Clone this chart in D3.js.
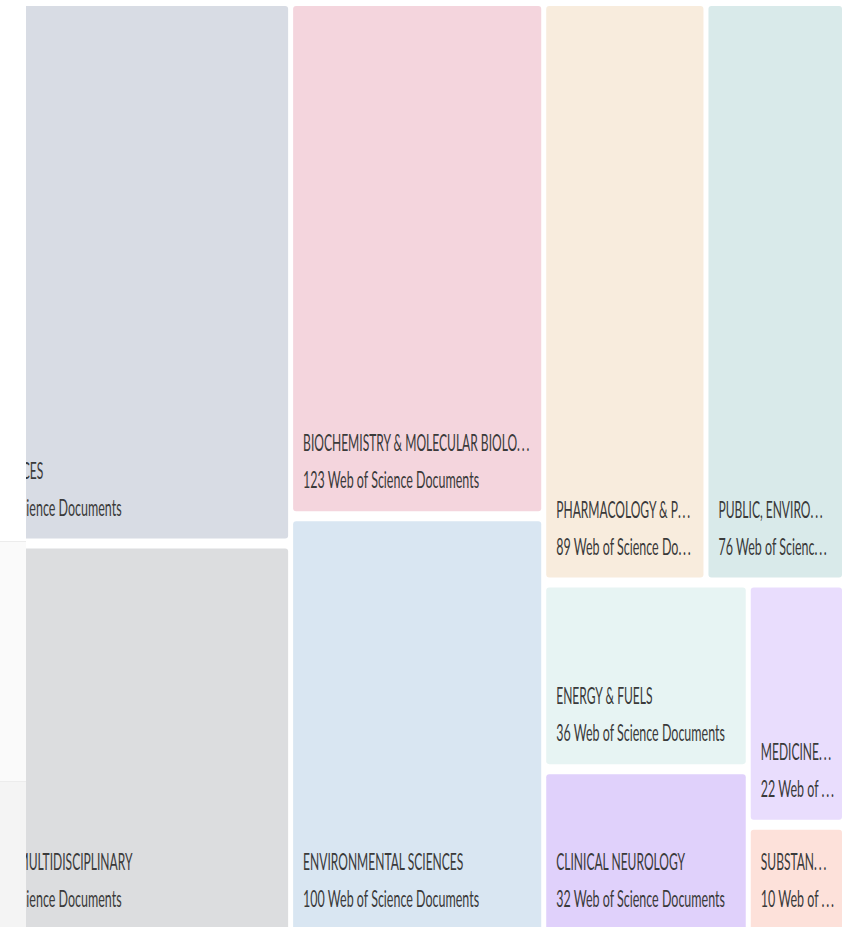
<!DOCTYPE html>
<html>
<head>
<meta charset="utf-8">
<script src="https://cdn.jsdelivr.net/npm/d3@7"></script>
<style>
  html, body { margin: 0; padding: 0; background: #ffffff; }
  svg { display: block; }
</style>
</head>
<body>
<svg id="chart" width="844" height="927"></svg>
<script>
// ---- data ----
const categories = [
  "NEUROSCIENCES",
  "CHEMISTRY, MULTIDISCIPLINARY",
  "BIOCHEMISTRY & MOLECULAR BIOLOGY",
  "ENVIRONMENTAL SCIENCES",
  "PHARMACOLOGY & PHARMACY",
  "PUBLIC, ENVIRONMENTAL & OCCUPATIONAL HEALTH",
  "ENERGY & FUELS",
  "CLINICAL NEUROLOGY",
  "MEDICINE, GENERAL & INTERNAL",
  "SUBSTANCE ABUSE"
];
const docCounts = [183, 132, 123, 100, 89, 76, 36, 32, 22, 10];
const groupPath = ["c1", "c1", "c2", "c2", "c3/top", "c3/top",
                   "c3/bottom/left", "c3/bottom/left", "c3/bottom/right", "c3/bottom/right"];
const tileColors = ["#d8dce4", "#dcdddf", "#f4d5dd", "#d9e6f2", "#f8ecdd",
                    "#d9eaea", "#e7f4f3", "#e0d1fb", "#e9ddfd", "#fde1da"];
const countSuffix = " Web of Science Documents";

// ---- build hierarchy ----
const tree = { name: "root", children: [] };
categories.forEach((name, i) => {
  let node = tree;
  groupPath[i].split("/").forEach(key => {
    let child = node.children.find(c => c.name === key);
    if (!child) { child = { name: key, children: [] }; node.children.push(child); }
    node = child;
  });
  node.children.push({ name, value: docCounts[i], idx: i });
});

const W = 911.4, H = 934, offX = -66.9, offY = 1;
const root = d3.hierarchy(tree).sum(d => d.value || 0);
d3.treemap().tile(d3.treemapSliceDice).size([W, H]).round(false)(root);

const svg = d3.select("#chart");
const g = svg.append("g").attr("transform", `translate(${offX},${offY})`);

const padX = 2.5, padY = 5;
const fontSize = 24;
const fontFamily = "Lato, 'Open Sans', sans-serif";
const ellipsisW = 14;   // rendered width of the "..." (px, after condensation)
const rightPad = 8.6;

// measure for horizontal condensation
const meas = svg.append("text").attr("font-family", fontFamily).attr("font-size", fontSize)
  .text("123 Web of Science Documents");
const sxBody = 176 / meas.node().getComputedTextLength();
meas.text("...");
const dotsW = meas.node().getComputedTextLength();
meas.remove();
const sxTitle = sxBody * 0.965;

function fitText(textSel, full, avail, sx) {
  textSel.text(full);
  if (textSel.node().getComputedTextLength() * sx <= avail) return;
  const ls = (ellipsisW / sx - dotsW) / 3;
  let s = full;
  while (s.length > 1) {
    s = s.slice(0, -1);
    const pre = s.replace(/,\s*$/, "");
    textSel.text(pre);
    const w = textSel.node().getComputedTextLength() * sx + ellipsisW;
    if (w <= avail || s.length === 1) {
      textSel.append("tspan").attr("letter-spacing", ls).text("...");
      return;
    }
  }
}

const leaves = root.leaves();
const cell = g.selectAll("g.cell").data(leaves).join("g").attr("class", "cell");

cell.append("rect")
  .attr("x", d => d.x0 + padX)
  .attr("y", d => d.y0 + padY)
  .attr("width", d => Math.max(0, d.x1 - d.x0 - 2 * padX))
  .attr("height", d => Math.max(0, d.y1 - d.y0 - 2 * padY))
  .attr("rx", 3).attr("ry", 3)
  .attr("fill", d => tileColors[d.data.idx]);

cell.each(function(d) {
  const c = d3.select(this);
  const tx = d.x0 + padX + 10;
  const bottom = d.y1 - padY;
  const avail = (d.x1 - d.x0 - 2 * padX) - 10 - rightPad;
  const lines = [
    { txt: d.data.name, y: bottom - 60, sx: sxTitle },
    { txt: d.data.value + countSuffix, y: bottom - 23, sx: sxBody }
  ];
  lines.forEach(l => {
    const t = c.append("text")
      .attr("transform", `translate(${tx},${l.y}) scale(${l.sx},1)`)
      .attr("font-family", fontFamily)
      .attr("font-size", fontSize)
      .attr("fill", "#3a3a3a");
    fitText(t, l.txt, avail, l.sx);
  });
});

// ---- left overlay panel (page chrome covering the treemap) ----
const ov = svg.append("g");
ov.append("rect").attr("x", 0).attr("y", 0).attr("width", 26).attr("height", 927).attr("fill", "#ffffff");
ov.append("rect").attr("x", 0).attr("y", 541).attr("width", 26).attr("height", 240).attr("fill", "#fafafa");
ov.append("rect").attr("x", 0).attr("y", 781).attr("width", 26).attr("height", 146).attr("fill", "#f4f4f4");
ov.append("line").attr("x1", 0).attr("x2", 26).attr("y1", 541.5).attr("y2", 541.5).attr("stroke", "#ececec");
ov.append("line").attr("x1", 0).attr("x2", 26).attr("y1", 781.5).attr("y2", 781.5).attr("stroke", "#ececec");
</script>
</body>
</html>
